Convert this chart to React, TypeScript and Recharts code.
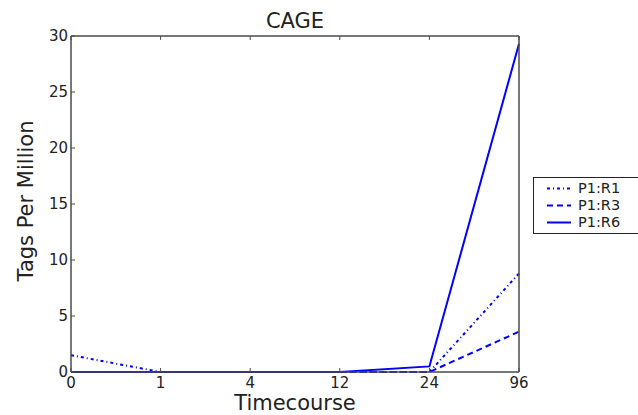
import React from 'react';
import { LineChart, Line, XAxis, YAxis, Legend, Label } from 'recharts';

const timepoints = ['0', '1', '4', '12', '24', '96'];
const r1Values = [1.5, 0, 0, 0, 0, 8.8];
const r3Values = [0, 0, 0, 0, 0, 3.6];
const r6Values = [0, 0, 0, 0, 0.5, 29.3];
const yTicks = [0, 5, 10, 15, 20, 25, 30];

const seriesDefs = [
  { key: 'r1', name: 'P1:R1', dash: '3 3 1 3' },
  { key: 'r3', name: 'P1:R3', dash: '6 4' },
  { key: 'r6', name: 'P1:R6', dash: undefined as string | undefined },
];

const data = timepoints.map((t, i) => ({ t, r1: r1Values[i], r3: r3Values[i], r6: r6Values[i] }));

const FONT = 'DejaVu Sans';
const AXIS = '#4a4a4a';
const TEXT = '#222';
const BLUE = '#0000ff';

const LeftTick = (props: any) => {
  const { x, y, payload } = props;
  return (
    <g>
      <line x1={x} x2={x + 4} y1={y} y2={y} stroke={AXIS} />
      <text x={x - 3} y={y} dy="0.36em" textAnchor="end" fontSize={15} fill={TEXT} fontFamily={FONT}>
        {payload.value}
      </text>
    </g>
  );
};

const RightTick = (props: any) => {
  const { x, y } = props;
  return <line x1={x} x2={x - 4} y1={y} y2={y} stroke={AXIS} />;
};

const BottomTick = (props: any) => {
  const { x, y, payload } = props;
  return (
    <g>
      <line x1={x} x2={x} y1={y} y2={y - 4} stroke={AXIS} />
      <text x={x} y={y + 16} textAnchor="middle" fontSize={15} fill={TEXT} fontFamily={FONT}>
        {payload.value}
      </text>
    </g>
  );
};

const TopTick = (props: any) => {
  const { x, y } = props;
  return <line x1={x} x2={x} y1={y} y2={y + 4} stroke={AXIS} />;
};

const renderLegend = () => (
  <div
    style={{
      border: '1px solid #222',
      background: '#fff',
      width: 110,
      height: 57,
      boxSizing: 'border-box',
      paddingTop: 2,
      fontFamily: FONT,
    }}
  >
    {seriesDefs.map((s) => (
      <div key={s.key} style={{ display: 'flex', alignItems: 'center', height: 17 }}>
        <svg width={44} height={17} style={{ display: 'block' }}>
          <line x1={13} x2={37} y1={8.5} y2={8.5} stroke={BLUE} strokeWidth={2} strokeDasharray={s.dash} />
        </svg>
        <div style={{ fontSize: 14.5, lineHeight: '17px', height: 17, color: TEXT }}>{s.name}</div>
      </div>
    ))}
  </div>
);

export default function App() {
  return (
    <div style={{ position: 'absolute', left: 0, top: 0, background: '#fff' }}>
      <LineChart width={638} height={415} data={data} margin={{ top: 35, right: 118, left: 0, bottom: 0 }}>
        <XAxis
          dataKey="t"
          xAxisId="bottom"
          height={43}
          interval={0}
          tickSize={0}
          tickMargin={0}
          axisLine={{ stroke: AXIS, strokeWidth: 1.5 }}
          tickLine={false}
          tick={<BottomTick />}
        >
          <Label
            content={(p: any) => {
              const vb = p.viewBox;
              return (
                <text x={vb.x + vb.width / 2} y={410} textAnchor="middle" fontSize={21} fill={TEXT} fontFamily={FONT}>
                  Timecourse
                </text>
              );
            }}
          />
        </XAxis>
        <XAxis
          dataKey="t"
          xAxisId="top"
          orientation="top"
          height={1}
          interval={0}
          tickSize={0}
          tickMargin={0}
          axisLine={{ stroke: AXIS, strokeWidth: 1.5 }}
          tickLine={false}
          tick={<TopTick />}
        >
          <Label
            content={(p: any) => {
              const vb = p.viewBox;
              return (
                <text x={vb.x + vb.width / 2} y={28} textAnchor="middle" fontSize={21} fill={TEXT} fontFamily={FONT}>
                  CAGE
                </text>
              );
            }}
          />
        </XAxis>
        <YAxis
          yAxisId="left"
          width={71}
          type="number"
          domain={[0, 30]}
          ticks={yTicks}
          interval={0}
          tickSize={0}
          tickMargin={0}
          axisLine={{ stroke: AXIS, strokeWidth: 1.5 }}
          tickLine={false}
          tick={<LeftTick />}
        >
          <Label
            content={(p: any) => {
              const vb = p.viewBox;
              const cy = vb.y + vb.height / 2 - 3;
              return (
                <text
                  x={33}
                  y={cy}
                  transform={`rotate(-90 33 ${cy})`}
                  textAnchor="middle"
                  fontSize={21}
                  fill={TEXT}
                  fontFamily={FONT}
                >
                  Tags Per Million
                </text>
              );
            }}
          />
        </YAxis>
        <YAxis
          yAxisId="right"
          orientation="right"
          width={1}
          type="number"
          domain={[0, 30]}
          ticks={yTicks}
          interval={0}
          tickSize={0}
          tickMargin={0}
          axisLine={{ stroke: AXIS, strokeWidth: 1.5 }}
          tickLine={false}
          tick={<RightTick />}
        />
        <Legend
          layout="horizontal"
          verticalAlign="middle"
          align="center"
          content={renderLegend}
          wrapperStyle={{ position: 'absolute', left: 533, top: 177, width: 110, height: 57 }}
        />
        {seriesDefs.map((s) => (
          <Line
            key={s.key}
            xAxisId="bottom"
            yAxisId="left"
            type="linear"
            dataKey={s.key}
            name={s.name}
            stroke={BLUE}
            strokeWidth={2}
            strokeDasharray={s.dash}
            dot={false}
            activeDot={false}
            isAnimationActive={false}
          />
        ))}
      </LineChart>
    </div>
  );
}
